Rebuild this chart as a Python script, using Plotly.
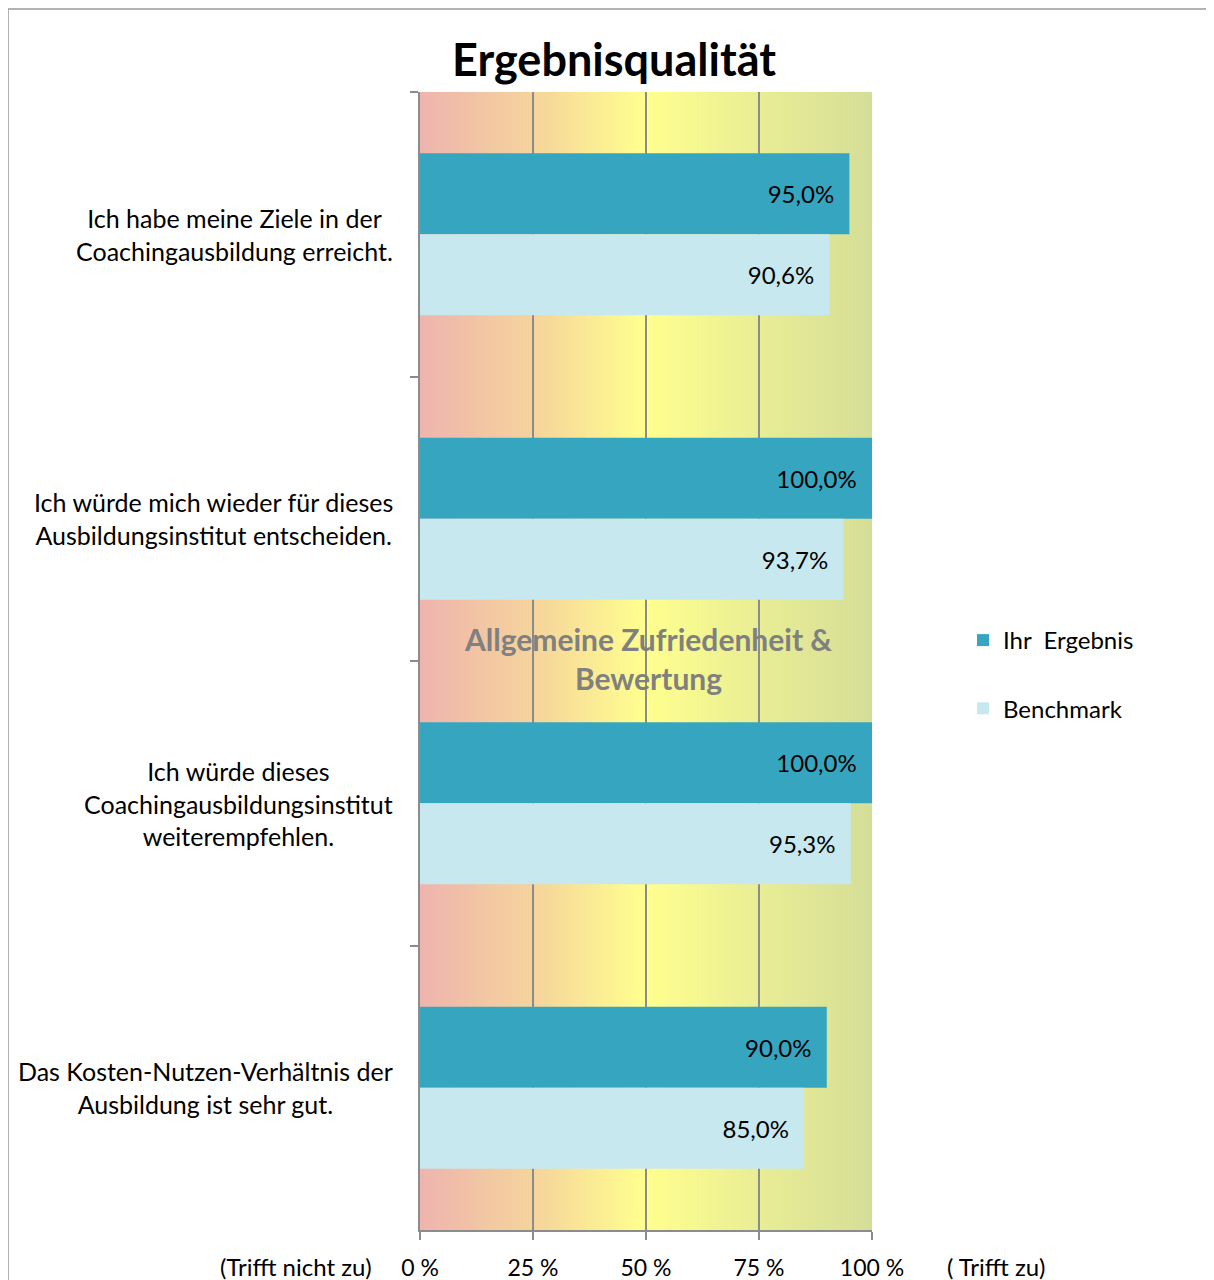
import plotly.graph_objects as go

# ---- data ----
categories = [
    "Ich habe meine Ziele in der<br>Coachingausbildung erreicht.",
    "Ich würde mich wieder für dieses<br>Ausbildungsinstitut entscheiden.",
    "Ich würde dieses<br>Coachingausbildungsinstitut<br>weiterempfehlen.",
    "Das Kosten-Nutzen-Verhältnis der<br>Ausbildung ist sehr gut.",
]
ihr_ergebnis = [95.0, 100.0, 100.0, 90.0]
benchmark = [90.6, 93.7, 95.3, 85.0]
series_names = ["Ihr  Ergebnis", "Benchmark"]
x_ticks = [0, 25, 50, 75, 100]
title_text = "Ergebnisqualität"
watermark = "Allgemeine Zufriedenheit &<br>Bewertung"

# ---- layout constants (reference pixel coords; page body has 8px margin) ----
OFF = 8
W, H = 1214 - OFF, 1280 - OFF
L, R, T, B = 420, 872, 92, 1230
FONT = "Lato"
DARK = "#36A6C0"
LIGHT = "#C8E8EF"
GRID = "#8C8C8C"


def px_x(p):
    return (p - L) / (R - L)


def px_y(p):
    return (B - p) / (B - T)


def fmt(v):
    return f"{v:.1f}%".replace(".", ",") + "\u00a0\u00a0"


fig = go.Figure()
fig.add_trace(go.Bar(
    y=categories, x=ihr_ergebnis, name=series_names[0], orientation="h",
    marker=dict(color=DARK, line=dict(width=0)),
    text=[fmt(v) for v in ihr_ergebnis], textposition="inside",
    insidetextanchor="end", textangle=0,
    textfont=dict(family=FONT, size=24, color="black"),
    legendgroup="a", hoverinfo="skip",
))
fig.add_trace(go.Bar(
    y=categories, x=benchmark, name=series_names[1], orientation="h",
    marker=dict(color=LIGHT, line=dict(width=0)),
    text=[fmt(v) for v in benchmark], textposition="inside",
    insidetextanchor="end", textangle=0,
    textfont=dict(family=FONT, size=24, color="black"),
    legendgroup="b", hoverinfo="skip",
))

# gradient background
stops = [(0.0, (238, 180, 174)), (0.25, (245, 212, 156)), (0.5, (255, 255, 142)),
         (0.75, (233, 237, 148)), (1.0, (213, 222, 152))]


def grad(t):
    for (t0, c0), (t1, c1) in zip(stops[:-1], stops[1:]):
        if t0 <= t <= t1:
            f = (t - t0) / (t1 - t0)
            return "rgb(%d,%d,%d)" % tuple(round(a + (b - a) * f) for a, b in zip(c0, c1))
    return "rgb(%d,%d,%d)" % stops[-1][1]


shapes = []
N = 120
for i in range(N):
    x0 = 100 * i / N
    x1 = 100 * (i + 1) / N + 0.3
    shapes.append(dict(type="rect", xref="x", yref="paper", x0=x0, x1=min(x1, 100),
                       y0=0, y1=1, fillcolor=grad((i + 0.5) / N), line=dict(width=0),
                       layer="below"))
# outer frame
shapes.append(dict(type="line", xref="paper", yref="paper", x0=px_x(8), x1=px_x(1300),
                   y0=px_y(9), y1=px_y(9), line=dict(color="#9A9A9A", width=1.5)))
shapes.append(dict(type="line", xref="paper", yref="paper", x0=px_x(8), x1=px_x(8),
                   y0=px_y(9), y1=px_y(1400), line=dict(color="#9A9A9A", width=1.5)))

annotations = []
for c in categories:
    annotations.append(dict(text=c, x=0, xref="paper", y=c, yref="y", xanchor="right",
                            yanchor="middle", xshift=-25, align="center", showarrow=False,
                            font=dict(family=FONT, size=25, color="black")))
annotations.append(dict(text=watermark, x=px_x(648), xref="paper", y=px_y(658), yref="paper",
                        xanchor="center", yanchor="middle",
                        showarrow=False, align="center",
                        font=dict(family=FONT, size=30, color="#808080", weight="bold")))
annotations.append(dict(text="(Trifft nicht zu)", x=px_x(296), xref="paper", y=px_y(1266),
                        yref="paper", xanchor="center", yanchor="middle", showarrow=False,
                        font=dict(family=FONT, size=24, color="black")))
annotations.append(dict(text="( Trifft zu)", x=px_x(996), xref="paper", y=px_y(1266),
                        yref="paper", xanchor="center", yanchor="middle", showarrow=False,
                        font=dict(family=FONT, size=24, color="black")))

fig.update_layout(
    width=W, height=H,
    margin=dict(l=L - OFF, r=W - (R - OFF), t=T - OFF, b=H - (B - OFF), pad=0,
                autoexpand=False),
    paper_bgcolor="white", plot_bgcolor="white",
    barmode="group", bargap=0.43, bargroupgap=0,
    title=dict(text=title_text, x=px_x(614), xref="paper", xanchor="center",
               y=1 - (60 - OFF) / H, yanchor="middle",
               font=dict(family=FONT, size=45, color="black", weight="bold")),
    font=dict(family=FONT, size=24, color="black"),
    showlegend=True,
    legend=dict(x=px_x(963), y=px_y(618), xanchor="left", yanchor="top",
                traceorder="grouped", tracegroupgap=34, bgcolor="rgba(0,0,0,0)",
                font=dict(family=FONT, size=24, color="black"), itemclick=False),
    shapes=shapes, annotations=annotations,
)
fig.update_xaxes(range=[0, 100], tickvals=x_ticks, ticktext=[f"{v} %" for v in x_ticks],
                 showgrid=True, gridcolor=GRID, gridwidth=2, zeroline=False,
                 showline=True, linecolor=GRID, linewidth=2, automargin=False,
                 ticks="outside", ticklen=8, tickwidth=2, tickcolor=GRID,
                 ticklabelstandoff=8,
                 tickfont=dict(family=FONT, size=23, color="black"), fixedrange=True)
fig.update_yaxes(autorange="reversed", showticklabels=False, tickson="boundaries",
                 ticks="outside", ticklen=8, tickwidth=2, tickcolor=GRID, automargin=False,
                 showgrid=False, showline=True, linecolor=GRID, linewidth=2,
                 zeroline=False, fixedrange=True)

fig.write_html("out.html")
